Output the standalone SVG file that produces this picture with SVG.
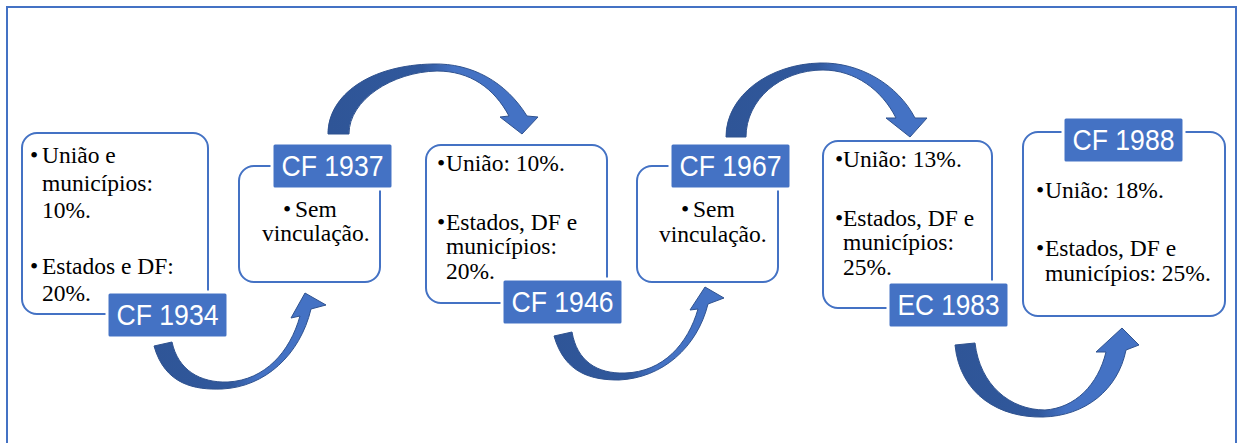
<svg xmlns="http://www.w3.org/2000/svg" width="1237" height="443" viewBox="0 0 1237 443">
<defs>
<linearGradient id="ag" x1="0" y1="0" x2="1" y2="0">
<stop offset="0" stop-color="#2F5597"/>
<stop offset="0.45" stop-color="#30589C"/>
<stop offset="0.6" stop-color="#4472C4"/>
<stop offset="1" stop-color="#4472C4"/>
</linearGradient>
<style>
.frame{fill:none;stroke:#4472C4;stroke-width:2}
.box{fill:#FFFFFF;stroke:#4472C4;stroke-width:2}
.lab{fill:#4472C4;stroke:#FFFFFF;stroke-width:3}
.lt{font-family:"Liberation Sans",Arial,sans-serif;font-size:30px;fill:#FFFFFF;text-anchor:middle}
.bt{font-family:"Liberation Serif","Times New Roman",serif;font-size:23.5px;fill:#000000}
.arr{fill:url(#ag);stroke:#2F528F;stroke-width:1;stroke-linejoin:round}
</style>
</defs>
<rect class="frame" x="7" y="7" width="1229" height="460"/>
<g id="connectors">
<path class="arr" d="M154,346 C165,385 195,390 222,389 C265,387 300,355 311,309 L326,305 L305,293 L291,318 L300,316 C290,352 265,380 228,382 C200,383 178,370 172,342 Z"/>
<path class="arr" d="M328,134 C328,95 370,65 433,64 C472,63 506,82 527,116 L538,117 L522,134 L500,117 L509,116 C494,88 470,71 437,71 C392,72 349,100 349,134 Z"/>
<path class="arr" d="M554,336 C565,374 592,380 619,380 C662,378 697,348 708,304 L724,298 L705,287 L690,310 L698,309 C688,344 663,372 625,373 C597,374 577,361 572,332 Z"/>
<path class="arr" d="M726,137 C726,95 770,64 820,63 C860,62 898,85 915,118 L927,118 L910,137 L886,118 L896,118 C882,90 855,70 823,70 C780,70 746,100 746,137 Z"/>
<path class="arr" d="M955,345 C960,395 1000,418 1043,417 C1085,416 1118,390 1126,350 L1139,345 L1122,328 L1096,352 L1106,352 C1098,385 1075,408 1045,410 C1010,410 980,385 975,343 Z"/>
</g>
<g id="n1934">
<rect class="box" x="22" y="133" width="186" height="181" rx="15"/>
<text class="bt" x="30" y="163">•</text>
<text class="bt" x="42" y="163">União e</text>
<text class="bt" x="42" y="191">municípios:</text>
<text class="bt" x="42" y="218">10%.</text>
<text class="bt" x="30" y="274">•</text>
<text class="bt" x="42" y="274">Estados e DF:</text>
<text class="bt" x="42" y="301">20%.</text>
<rect class="lab" x="107" y="292" width="121" height="46" rx="3"/>
<text class="lt" x="167.5" y="325" textLength="102" lengthAdjust="spacingAndGlyphs">CF 1934</text>
</g>
<g id="n1937">
<rect class="box" x="239" y="166" width="141" height="116" rx="15"/>
<text class="bt" x="283" y="217">•</text>
<text class="bt" x="295" y="217">Sem</text>
<text class="bt" x="262" y="241">vinculação.</text>
<rect class="lab" x="272" y="143" width="121" height="46" rx="3"/>
<text class="lt" x="332.5" y="175.5" textLength="102" lengthAdjust="spacingAndGlyphs">CF 1937</text>
</g>
<g id="n1946">
<rect class="box" x="426" y="145" width="181" height="158" rx="15"/>
<text class="bt" x="437" y="171">•</text>
<text class="bt" x="446" y="171">União: 10%.</text>
<text class="bt" x="437" y="230">•</text>
<text class="bt" x="446" y="230">Estados, DF e</text>
<text class="bt" x="446" y="254">municípios:</text>
<text class="bt" x="446" y="279">20%.</text>
<rect class="lab" x="502" y="279" width="121" height="46" rx="3"/>
<text class="lt" x="562.5" y="311.5" textLength="102" lengthAdjust="spacingAndGlyphs">CF 1946</text>
</g>
<g id="n1967">
<rect class="box" x="637" y="166" width="141" height="116" rx="15"/>
<text class="bt" x="681" y="217">•</text>
<text class="bt" x="693" y="217">Sem</text>
<text class="bt" x="659" y="242">vinculação.</text>
<rect class="lab" x="670" y="143" width="121" height="46" rx="3"/>
<text class="lt" x="730.5" y="175.5" textLength="102" lengthAdjust="spacingAndGlyphs">CF 1967</text>
</g>
<g id="n1983">
<rect class="box" x="823" y="141" width="169" height="167" rx="15"/>
<text class="bt" x="835" y="167">•</text>
<text class="bt" x="843" y="167">União: 13%.</text>
<text class="bt" x="835" y="226">•</text>
<text class="bt" x="843" y="226">Estados, DF e</text>
<text class="bt" x="843" y="250">municípios:</text>
<text class="bt" x="843" y="275">25%.</text>
<rect class="lab" x="888" y="282" width="121" height="46" rx="3"/>
<text class="lt" x="948.5" y="314.5" textLength="102" lengthAdjust="spacingAndGlyphs">EC 1983</text>
</g>
<g id="n1988">
<rect class="box" x="1023" y="132" width="202" height="184" rx="15"/>
<text class="bt" x="1036" y="198">•</text>
<text class="bt" x="1045" y="198">União: 18%.</text>
<text class="bt" x="1036" y="256">•</text>
<text class="bt" x="1045" y="256">Estados, DF e</text>
<text class="bt" x="1045" y="281">municípios: 25%.</text>
<rect class="lab" x="1063" y="117" width="121" height="46" rx="3"/>
<text class="lt" x="1123.5" y="149.5" textLength="102" lengthAdjust="spacingAndGlyphs">CF 1988</text>
</g>
</svg>
